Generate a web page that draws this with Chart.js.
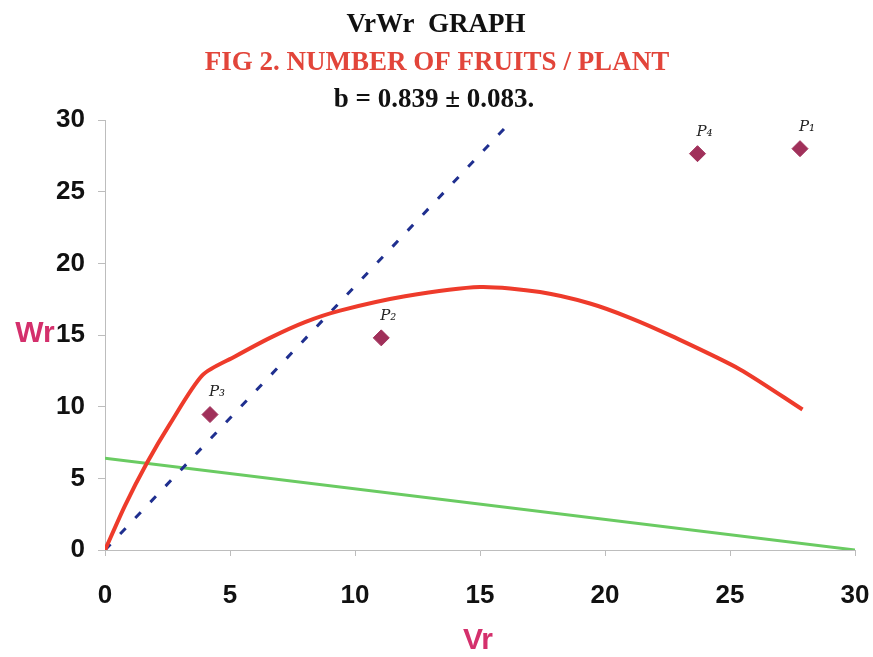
<!DOCTYPE html>
<html>
<head>
<meta charset="utf-8">
<script src="https://cdn.jsdelivr.net/npm/chart.js@4/dist/chart.umd.min.js"></script>
<style>
  html, body { margin: 0; padding: 0; background: #fff; }
  #wrap { width: 873px; height: 657px; position: relative; }
</style>
</head>
<body>
<div id="wrap"><canvas id="vrwrChart"></canvas></div>
<script>
// Array data
const xTicks = [0, 5, 10, 15, 20, 25, 30];
const yTicks = [0, 5, 10, 15, 20, 25, 30];

// parents (Vr, Wr)
const parentLabels = ['P₁', 'P₂', 'P₃', 'P₄'];
const parentVr = [27.8, 11.05, 4.2, 23.7];
const parentWr = [28.0, 14.8, 9.45, 27.65];

// fitted red curve
const curveVr = [0, 0.8, 1.67, 2.6, 3.9, 5.2, 6.6, 8.0, 9.4, 12.0, 15.0, 17.4, 19.4, 21.0, 22.7, 25.4, 27.9];
const curveWr = [0, 3.1, 6.05, 8.8, 12.2, 13.5, 14.8, 15.9, 16.7, 17.7, 18.35, 18.0, 17.2, 16.2, 14.9, 12.6, 9.8];

// regression line (blue dashed)
const limitVr = [0, 16.3];
const limitWr = [0, 30];

// green line
const greenVr = [0, 30];
const greenWr = [6.4, 0];

const pts = (xs, ys) => xs.map((x, i) => ({ x: x, y: ys[i] }));

// Draw the titles and axis names
const textPlugin = {
  id: 'textPlugin',
  afterDraw(chart) {
    const ctx = chart.ctx;
    ctx.save();
    ctx.textAlign = 'center';
    ctx.textBaseline = 'alphabetic';
    ctx.font = 'bold 27px "Liberation Serif"';
    ctx.fillStyle = '#111';
    ctx.fillText('VrWr  GRAPH', 436, 32);
    ctx.fillStyle = '#e2453a';
    ctx.fillText('FIG 2. NUMBER OF FRUITS / PLANT', 437, 70);
    ctx.fillStyle = '#111';
    ctx.fillText('b = 0.839 ± 0.083.', 434, 107);

    ctx.textBaseline = 'middle';
    ctx.fillStyle = '#d4306c';
    ctx.font = 'bold 30px "Liberation Sans"';
    ctx.fillText('Wr', 35, 334);
    ctx.fillText('Vr', 478, 641);

    // handwritten point names
    const meta = chart.getDatasetMeta(3);
    ctx.fillStyle = '#222';
    ctx.font = 'italic 15px "DejaVu Serif"';
    meta.data.forEach((el, i) => {
      ctx.fillText(parentLabels[i], el.x + 7, el.y - 22);
    });
    ctx.restore();
  }
};

const ctxEl = document.getElementById('vrwrChart');

const vrwrChart = new Chart(ctxEl.getContext('2d'), {
  type: 'scatter',
  data: {
    datasets: [
      {
        label: 'curve',
        type: 'line',
        data: pts(curveVr, curveWr),
        borderColor: '#ee3b2b',
        borderWidth: 4,
        tension: 0.25,
        pointRadius: 0,
        fill: false,
      },
      {
        label: 'limit',
        type: 'line',
        data: pts(limitVr, limitWr),
        borderColor: '#1f2f8f',
        borderWidth: 3,
        borderDash: [8, 14],
        pointRadius: 0,
        fill: false,
      },
      {
        label: 'green',
        type: 'line',
        data: pts(greenVr, greenWr),
        borderColor: '#6acb62',
        borderWidth: 3,
        pointRadius: 0,
        fill: false,
      },
      {
        label: 'parents',
        data: pts(parentVr, parentWr),
        pointStyle: 'rectRot',
        pointRadius: 8,
        backgroundColor: '#a0305a',
        borderColor: '#a0305a',
      }
    ]
  },
  options: {
    responsive: true,
    maintainAspectRatio: false,
    animation: false,
    layout: { padding: { top: 120, right: 18, left: 0, bottom: 0 } },
    plugins: {
      legend: { display: false },
      tooltip: { enabled: false }
    },
    scales: {
      x: {
        type: 'linear',
        min: 0,
        max: 30,
        afterFit: (s) => { s.height = 107; s.paddingLeft = 0; s.paddingRight = 0; },
        afterBuildTicks: (s) => { s.ticks = xTicks.map(v => ({ value: v })); },
        border: { color: '#bdbdbd', width: 1 },
        grid: { drawOnChartArea: false, color: '#bdbdbd', tickLength: 6 },
        ticks: {
          color: '#111',
          padding: 24,
          maxRotation: 0,
          font: { family: 'Liberation Sans', weight: 'bold', size: 26 }
        }
      },
      y: {
        type: 'linear',
        min: 0,
        max: 30,
        afterFit: (s) => { s.width = 105; s.paddingTop = 0; s.paddingBottom = 0; },
        afterBuildTicks: (s) => { s.ticks = yTicks.map(v => ({ value: v })); },
        border: { color: '#bdbdbd', width: 1 },
        grid: { drawOnChartArea: false, color: '#bdbdbd', tickLength: 7 },
        ticks: {
          color: '#111',
          padding: 13,
          font: { family: 'Liberation Sans', weight: 'bold', size: 26 }
        }
      }
    }
  },
  plugins: [textPlugin]
});
</script>
</body>
</html>
